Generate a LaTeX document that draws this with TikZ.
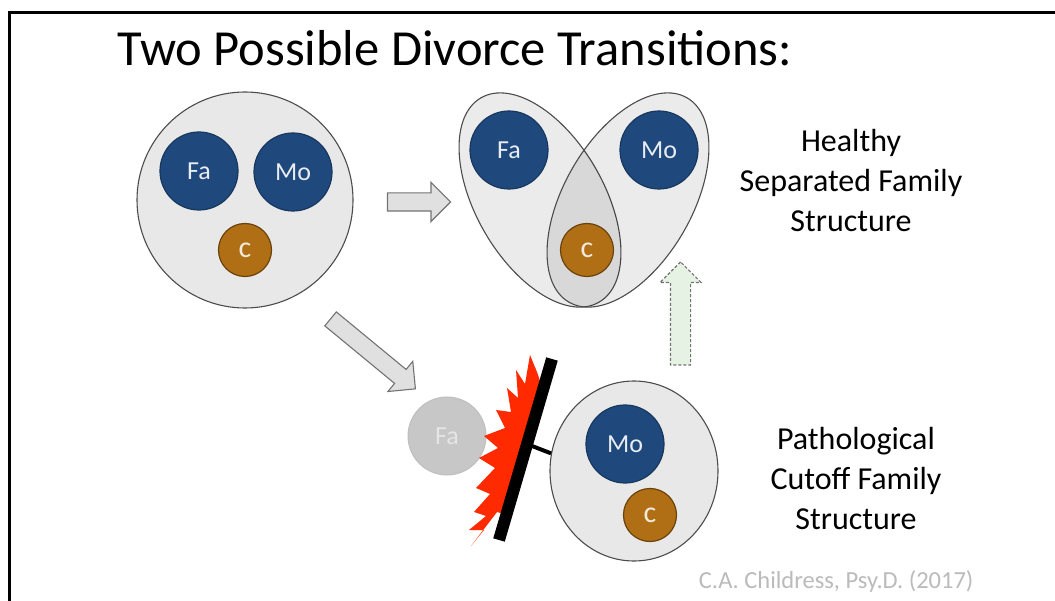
\documentclass[tikz,border=0pt]{standalone}
\usepackage{fontspec}
\setmainfont{Carlito}
\usetikzlibrary{shapes.geometric,shapes.arrows,calc}
\definecolor{famblue}{HTML}{1F497D}
\definecolor{famblueline}{HTML}{17375E}
\definecolor{kidbrown}{HTML}{B06F15}
\definecolor{kidline}{HTML}{6B420A}
\definecolor{circlegray}{HTML}{E8E8E8}
\definecolor{arrowgray}{HTML}{E0E0E0}
\definecolor{arrowgreen}{HTML}{E6F2E4}
\definecolor{creditgray}{HTML}{BBBBBB}
\definecolor{boom}{HTML}{FF2A00}

\begin{document}
\begin{tikzpicture}[x=1pt,y=-1pt,
		parent/.style={circle,draw=famblueline,line width=1.2,fill=famblue,text=white!90!famblue,minimum size=78,inner sep=0,font=\fontsize{26}{26}\selectfont},
		kid/.style={circle,draw=kidline,line width=1.2,fill=kidbrown,text=white!85!kidbrown,minimum size=53,inner sep=0,font=\fontsize{30}{30}\selectfont},
		family/.style={draw=black!70,line width=1.1},
		bigarrow/.style={single arrow,draw=black!55,line width=1.1,fill=arrowgray,inner xsep=0,inner ysep=8.5,single arrow head extend=10.5},
		caption/.style={align=center,font=\fontsize{32}{40}\selectfont}]
	\useasboundingbox[fill=white] (0,0) rectangle (1055,601);
	\draw[line width=3] (9.5,601) -- (9.5,13) -- (1055,13);
	\node[anchor=base west,font=\fontsize{50.5}{50.5}\selectfont] (title) at (114,66) {Two Possible Divorce Transitions:};

	\node[circle,family,fill=circlegray,minimum size=216] (home) at (245,200) {};
	\node[parent] (fa1) at (199,171) {Fa};
	\node[parent] (mo1) at (293,172) {Mo};
	\node[kid] (c1) at (245,250) {c};

	\node[bigarrow,minimum height=63] (toshared) at (414.5,202) {};
	\node[bigarrow,minimum height=110,rotate=-39.5] (tocutoff) at (369.5,351) {};

	\path[family,fill=black,fill opacity=0.08] [rotate around={-60:(540,200)}] (540,200) ellipse [x radius=118,y radius=64];
	\path[family,fill=black,fill opacity=0.08] [rotate around={60:(628,200)}] (628,200) ellipse [x radius=118,y radius=64];
	\node[parent] (fa2) at (509,150) {Fa};
	\node[parent] (mo2) at (659,150) {Mo};
	\node[kid] (c2) at (587,250) {c};
	\node[caption,anchor=base] (healthy) at (851,232) {Healthy\\Separated Family\\Structure};

	\node[bigarrow,minimum height=103,rotate=90,fill=arrowgreen,densely dashed,inner ysep=9.5] (recover) at (680.5,318.5) {};

	\node[circle,draw=black!25,line width=1,fill=black!22,text=white!90!black,minimum size=78,inner sep=0,font=\fontsize{26}{26}\selectfont] (fa3) at (447,436) {Fa};
	\node[ellipse,family,fill=circlegray,minimum width=168,minimum height=180,inner sep=0] (cutfam) at (634,471) {};
	\node[parent] (mo3) at (625,444) {Mo};
	\node[kid] (c3) at (650,515) {c};
	\coordinate (walltop) at (552,359);
	\coordinate (wallbot) at (499,540);
	\fill[boom] (530,355) -- (525,384) -- (516,370) -- (518,398) -- (507,388) -- (511,412) -- (496,410) -- (505,428) -- (484,436) -- (498,448) -- (479,458) -- (495,468) -- (476,488) -- (490,494) -- (474,512) -- (486,516) -- (469,530) -- (484,530) -- (471,546) -- (497,512) -- (504,514) -- (520,455) -- (533,408) -- (541,384) -- (537,372) -- cycle;
	\draw[line width=4] ($(walltop)!0.47!(wallbot)$) -- (cutfam.168);
	\draw[line width=12] (walltop) -- (wallbot);
	\node[caption,anchor=base] (pathological) at (856,529) {Pathological\\Cutoff Family\\Structure};

	\node[anchor=base east,text=creditgray,font=\fontsize{24.5}{24.5}\selectfont] (credit) at (977,588) {C.A. Childress, Psy.D. (2017)};
\end{tikzpicture}
\end{document}
